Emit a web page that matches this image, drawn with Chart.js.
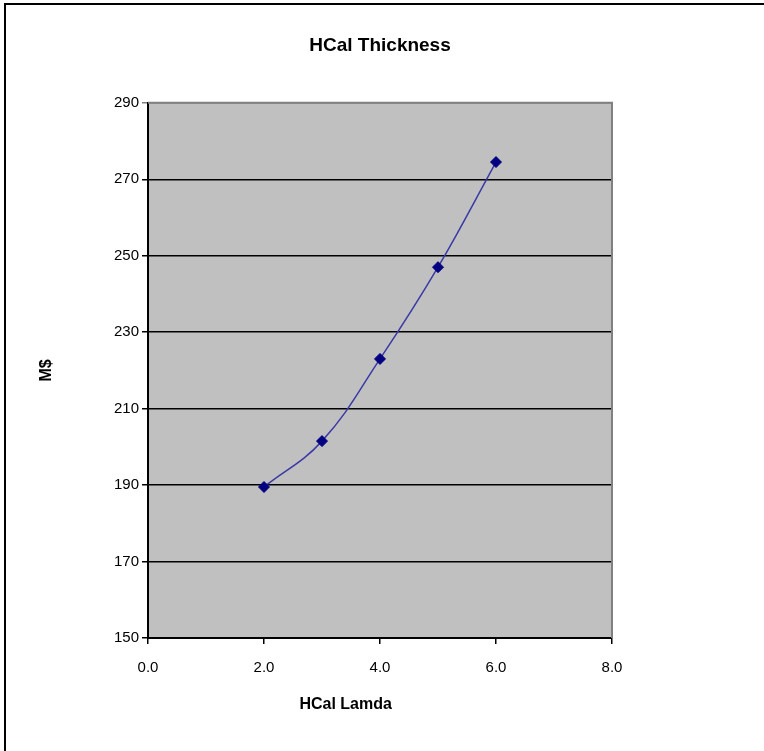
<!DOCTYPE html>
<html>
<head>
<meta charset="utf-8">
<script src="https://cdn.jsdelivr.net/npm/chart.js@4.4.0/dist/chart.umd.min.js"></script>
<style>
  html, body { margin: 0; padding: 0; background: #fff; }
</style>
</head>
<body>
<canvas id="myChart" width="764" height="751"></canvas>
<script>
// data
const lamda = [2, 3, 4, 5, 6];
const cost = [189.5, 201.5, 223, 247, 274.5];
const xTicks = [0, 2, 4, 6, 8];
const yTicks = [150, 170, 190, 210, 230, 250, 270, 290];

const FONT = "'Liberation Sans', Arial, sans-serif";

// gray plot background, gray top/right edge, outer frame, x title
const excelLook = {
  id: 'excelLook',
  beforeDraw(chart) {
    const { ctx, chartArea: a } = chart;
    ctx.save();
    ctx.fillStyle = '#c0c0c0';
    ctx.fillRect(a.left, a.top, a.right - a.left, a.bottom - a.top);
    ctx.restore();
  },
  afterDatasetsDraw(chart) {
    const { ctx, chartArea: a } = chart;
    ctx.save();
    ctx.strokeStyle = '#808080';
    ctx.lineWidth = 2;
    ctx.beginPath();
    ctx.moveTo(a.left, a.top);
    ctx.lineTo(a.right, a.top);
    ctx.lineTo(a.right, a.bottom);
    ctx.stroke();
    ctx.restore();
  },
  afterDraw(chart) {
    const { ctx, chartArea: a } = chart;
    ctx.save();
    // outer frame (only left and top visible)
    ctx.strokeStyle = '#000';
    ctx.lineWidth = 2;
    ctx.strokeRect(5, 4, 800, 800);
    // x axis title
    ctx.fillStyle = '#000';
    ctx.font = 'bold 16px ' + FONT;
    ctx.textAlign = 'center';
    ctx.textBaseline = 'middle';
    ctx.fillText('HCal Lamda', a.left + (a.right - a.left) * 0.426, 705);
    ctx.restore();
  }
};

const ctx = document.getElementById('myChart');

new Chart(ctx, {
  type: 'line',
  data: {
    datasets: [{
      label: 'M$',
      data: lamda.map((x, i) => ({ x: x, y: cost[i] })),
      borderColor: '#3a3aa6',
      borderWidth: 1.5,
      tension: 0.4,
      pointStyle: 'rectRot',
      pointRadius: 5.5,
      pointBackgroundColor: '#000080',
      pointBorderColor: '#000080',
      pointBorderWidth: 1
    }]
  },
  options: {
    responsive: false,
    animation: false,
    layout: { padding: { top: 0, right: 152, bottom: 0, left: 0 } },
    plugins: {
      legend: { display: false },
      tooltip: { enabled: false },
      title: {
        display: true,
        text: 'HCal Thickness',
        fullSize: false,
        color: '#000',
        font: { family: FONT, size: 19, weight: 'bold' },
        padding: { top: 34, bottom: 46 }
      }
    },
    scales: {
      x: {
        type: 'linear',
        min: 0,
        max: 8,
        afterBuildTicks: s => { s.ticks = xTicks.map(v => ({ value: v })); },
        afterFit: s => { s.height = 113; },
        ticks: {
          color: '#000',
          padding: 15,
          font: { family: FONT, size: 15 },
          callback: v => Number(v).toFixed(1)
        },
        grid: { drawOnChartArea: false, drawTicks: true, tickLength: 6, color: '#000', lineWidth: 1.5 },
        border: { color: '#000', width: 2 }
      },
      y: {
        min: 150,
        max: 290,
        afterBuildTicks: s => { s.ticks = yTicks.map(v => ({ value: v })); },
        afterFit: s => { s.width = 148; },
        ticks: {
          color: '#000',
          padding: 3,
          font: { family: FONT, size: 15 }
        },
        grid: {
          drawTicks: true,
          tickLength: 6,
          color: c => (c.tick && c.tick.value === 290) ? '#808080' : '#000',
          lineWidth: 1.5
        },
        border: { color: '#000', width: 2 },
        title: {
          display: true,
          text: 'M$',
          color: '#000',
          font: { family: FONT, size: 16, weight: 'bold' },
          padding: { top: 37, bottom: 0 }
        }
      }
    }
  },
  plugins: [excelLook]
});
</script>
</body>
</html>
